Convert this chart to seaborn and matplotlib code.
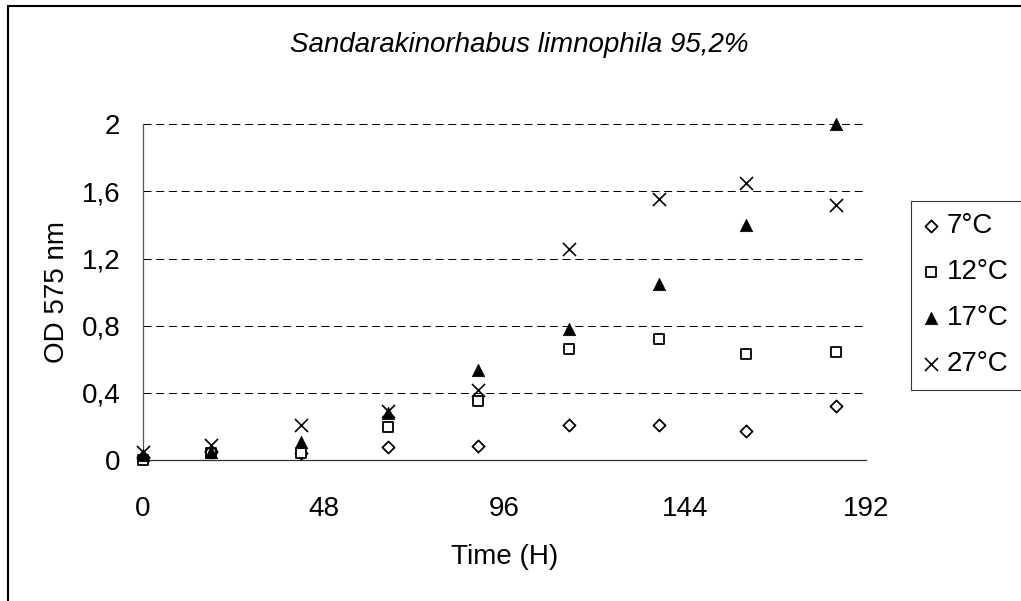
import matplotlib
matplotlib.use("Agg")
import matplotlib.pyplot as plt
import seaborn as sns
import pandas as pd
from matplotlib.patches import Rectangle

# ---- data ----
time_h = [0, 18, 42, 65, 89, 113, 137, 160, 184]
od_7c = [0.02, 0.05, 0.04, 0.08, 0.085, 0.21, 0.21, 0.17, 0.32]
od_12c = [0.00, 0.04, 0.04, 0.195, 0.35, 0.66, 0.72, 0.63, 0.645]
od_17c = [0.03, 0.05, 0.11, 0.28, 0.535, 0.78, 1.05, 1.40, 2.00]
od_27c = [0.05, 0.09, 0.21, 0.29, 0.415, 1.26, 1.555, 1.65, 1.52]
series_labels = ["7°C", "12°C", "17°C", "27°C"]
y_ticks = [0, 0.4, 0.8, 1.2, 1.6, 2.0]
y_ticklabels = ["0", "0,4", "0,8", "1,2", "1,6", "2"]
x_ticks = [0, 48, 96, 144, 192]
title = "Sandarakinorhabus limnophila 95,2%"

sns.set_theme(style="white")
plt.rcParams['font.family'] = ['Liberation Sans', 'DejaVu Sans']
plt.rcParams['text.color'] = 'black'
plt.rcParams['axes.labelcolor'] = 'black'
plt.rcParams['xtick.color'] = 'black'
plt.rcParams['ytick.color'] = 'black'

fig = plt.figure(figsize=(10.21, 6.01), dpi=100)
W, H = 1021, 601
ax = fig.add_axes([143 / W, 1 - 460 / H, (866 - 143) / W, (460 - 124.3) / H])

styles = [
    dict(marker="D", s=38, facecolor="white", edgecolor="black", linewidth=1.3),
    dict(marker="s", s=58, facecolor="white", edgecolor="black", linewidth=1.3),
    dict(marker="^", s=80, color="black", edgecolor="black", linewidth=0.5),
    dict(marker="x", s=88, color="black", linewidth=1.2),
]
for vals, lab, st in zip([od_7c, od_12c, od_17c, od_27c], series_labels, styles):
    df = pd.DataFrame({"t": time_h, "od": vals})
    sns.scatterplot(data=df, x="t", y="od", ax=ax, label=lab, clip_on=False,
                    zorder=5, **st)

ax.set_xlim(0, 192)
ax.set_ylim(0, 2)
ax.set_xticks(x_ticks)
ax.set_xticklabels([str(t) for t in x_ticks])
ax.set_yticks(y_ticks)
ax.set_yticklabels(y_ticklabels)

for yv in y_ticks[1:]:
    ax.axhline(yv, color="black", linewidth=0.72, linestyle=(0, (8, 4.7)), zorder=1)

for side in ["top", "right"]:
    ax.spines[side].set_visible(False)
ax.spines["left"].set_color("#555555")
ax.spines["bottom"].set_color("#333333")
for side in ["left", "bottom"]:
    ax.spines[side].set_linewidth(0.9)

ax.tick_params(axis="both", direction="out", length=7.2, width=0.8,
               color="#333333", labelsize=20, labelcolor="black")
ax.tick_params(axis="y", pad=9)
ax.tick_params(axis="x", pad=19)
ax.set_facecolor("white")

ax.set_xlabel("Time (H)", fontsize=20, labelpad=15.5, color="black")
ax.set_ylabel("OD 575 nm", fontsize=20, labelpad=8.5, color="black")

fig.text(519 / W, 1 - 45 / H, title, fontsize=20, style="italic",
         ha="center", va="center", color="black")

ax.get_legend().remove()
handles, labels = ax.get_legend_handles_labels()
leg = fig.legend(handles, labels, loc="upper left",
                 bbox_to_anchor=(911 / W, 1 - 200.7 / H),
                 bbox_transform=fig.transFigure, borderaxespad=0,
                 fontsize=20, frameon=True, fancybox=False, shadow=False,
                 handlelength=0.55, handletextpad=0.3, labelspacing=0.72,
                 borderpad=0.45)
leg.get_frame().set_edgecolor("black")
leg.get_frame().set_linewidth(0.8)
for t in leg.get_texts():
    t.set_color("black")

fig.patches.append(Rectangle((8 / W, -0.2), 1.5, 1 - 6 / H + 0.2,
                             transform=fig.transFigure, fill=False,
                             edgecolor="black", linewidth=1.5))

fig.savefig("out.png", dpi=100, facecolor="white")
